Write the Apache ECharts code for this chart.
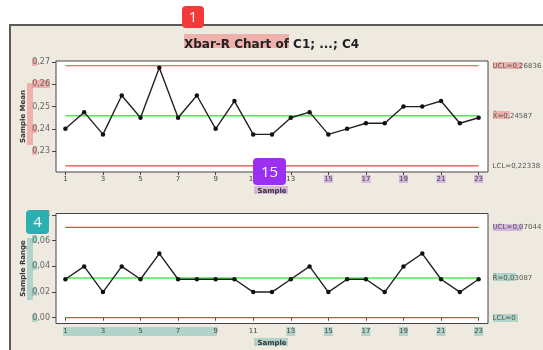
<!DOCTYPE html>
<html>
<head>
<meta charset="utf-8">
<title>Xbar-R Chart of C1; ...; C4</title>
<script src="https://cdn.jsdelivr.net/npm/echarts@6/dist/echarts.min.js"></script>
<style>
  html, body { margin: 0; padding: 0; background: #ffffff; }
  #chart { width: 543px; height: 350px; }
</style>
</head>
<body>
<div id="chart"></div>
<script>
// Subgroup numbers
const samples = [1,2,3,4,5,6,7,8,9,10,11,12,13,14,15,16,17,18,19,20,21,22,23];
// Subgroup means
const sampleMeans = [0.24,0.2475,0.2375,0.255,0.245,0.2675,0.245,0.255,0.24,0.2525,0.2375,0.2375,
                     0.245,0.2475,0.2375,0.24,0.2425,0.2425,0.25,0.25,0.2525,0.2425,0.245];
// Subgroup ranges
const sampleRanges = [0.03,0.04,0.02,0.04,0.03,0.05,0.03,0.03,0.03,0.03,0.02,0.02,
                      0.03,0.04,0.02,0.03,0.03,0.02,0.04,0.05,0.03,0.02,0.03];
// Control limits: [UCL, centre, LCL]
const meanLimits = [0.26836, 0.24587, 0.22338];
const rangeLimits = [0.07044, 0.03087, 0];
// Tick labels
const xTicks = [1,3,5,7,9,11,13,15,17,19,21,23];
const meanTicks = [0.23,0.24,0.25,0.26,0.27];
const rangeTicks = [0,0.02,0.04,0.06,0.08];

const FONT = 'DejaVu Sans';
const comma = (v, d) => v.toFixed(d).replace('.', ',');

const chart = echarts.init(document.getElementById('chart'), null, { renderer: 'canvas' });

function xAxisFor(gridIndex) {
  return {
    type: 'value', gridIndex, min: 0.5, max: 23.5,
    name: 'Sample', nameLocation: 'middle', nameGap: 16,
    nameTextStyle: { fontFamily: FONT, fontSize: 7, fontWeight: 'bold', color: '#333' },
    axisLine: { show: false },
    splitLine: { show: false },
    axisTick: { show: true, customValues: xTicks, length: 3, lineStyle: { color: '#444' } },
    axisLabel: { customValues: xTicks, fontFamily: FONT, fontSize: 7, color: '#444', margin: 4 }
  };
}
function yAxisFor(gridIndex, name, min, max, ticks) {
  return {
    type: 'value', gridIndex, min, max,
    name, nameLocation: 'middle', nameGap: 29, nameMoveOverlap: false,
    nameTextStyle: { fontFamily: FONT, fontSize: 7, fontWeight: 'bold', color: '#333' },
    axisLine: { show: false },
    splitLine: { show: false },
    axisTick: { show: true, customValues: ticks, length: 4, lineStyle: { color: '#444' } },
    axisLabel: { customValues: ticks, fontFamily: FONT, fontSize: 8, color: '#666', margin: 6,
                 formatter: v => comma(v, 2) }
  };
}
function limitSeries(idx, value, color, width, text) {
  return {
    type: 'line', xAxisIndex: idx, yAxisIndex: idx, symbol: 'none', silent: true, z: 1,
    data: [[samples[0], value], [samples[samples.length - 1], value]],
    lineStyle: { color, width },
    endLabel: { show: true, formatter: text, distance: 14, fontFamily: FONT, fontSize: 7, color: '#555' }
  };
}
function dataSeries(idx, values) {
  return {
    type: 'line', xAxisIndex: idx, yAxisIndex: idx, z: 3,
    data: samples.map((s, i) => [s, values[i]]),
    symbol: 'circle', symbolSize: 4.5,
    itemStyle: { color: '#111' },
    lineStyle: { color: '#222', width: 1.4 }
  };
}

// Annotation highlights and badges
const hl = (x, y, w, h, fill) => ({ type: 'rect', z: -5, shape: { x, y, width: w, height: h }, style: { fill } });
const badge = (x, y, w, h, fill, text) => ({
  type: 'group', z: 100, children: [
    { type: 'rect', z: 100, shape: { x, y, width: w, height: h, r: 4 }, style: { fill } },
    { type: 'text', z: 101, style: { x: x + w / 2, y: y + h / 2 + 1, text, fill: '#fff',
      font: '15px "Open Sans"', align: 'center', verticalAlign: 'middle' } }
  ]
});
const PINK = 'rgba(240,120,120,0.5)';
const PURPLE = 'rgba(175,95,220,0.38)';
const TEAL = 'rgba(40,160,150,0.3)';
const xpos = s => 56 + (s - 0.5) * 432 / 23;

const graphics = [
  { type: 'rect', z: -20, shape: { x: 10, y: 25, width: 540, height: 330 },
    style: { fill: '#EEEAE0', stroke: '#5a5a56', lineWidth: 2 } },
  // pink
  hl(184, 34, 105, 14, PINK),
  hl(32, 58, 5, 8, PINK),
  hl(32, 80, 18, 8, PINK),
  hl(32, 125, 5, 8, PINK),
  hl(32, 147, 5, 8, PINK),
  hl(27, 83, 6, 62, PINK),
  hl(493, 62, 29, 7, PINK),
  hl(493, 111, 17, 8, PINK),
  // purple
  hl(254, 186, 34, 8, PURPLE),
  hl(493, 224, 29, 7, PURPLE),
  // teal
  hl(27, 238, 6, 62, TEAL),
  hl(32, 235, 5, 8, TEAL),
  hl(32, 262, 5, 8, TEAL),
  hl(32, 288, 5, 8, TEAL),
  hl(32, 314, 5, 8, TEAL),
  hl(63, 327, 154, 9, TEAL),
  hl(254, 338, 34, 8, TEAL),
  hl(493, 273, 23, 8, TEAL),
  hl(493, 314, 25, 8, TEAL)
];
[15, 17, 19, 21, 23].forEach(s => graphics.push(hl(xpos(s) - 4.5, 175, 9, 8, PURPLE)));
[13, 15, 17, 19, 21, 23].forEach(s => graphics.push(hl(xpos(s) - 4.5, 327, 9, 9, TEAL)));
graphics.push(badge(182, 6, 22, 22, '#F23A3A', '1'));
graphics.push(badge(253, 158, 33, 27, '#9B30F0', '15'));
graphics.push(badge(26, 210, 23, 24, '#2BAFB0', '4'));

chart.setOption({
  animation: false,
  backgroundColor: '#ffffff',
  title: {
    text: 'Xbar-R Chart of C1; ...; C4', left: 'center', top: 34,
    textStyle: { fontFamily: FONT, fontSize: 12, fontWeight: 'bold', color: '#222' }
  },
  graphic: { elements: graphics },
  grid: [
    { left: 56, top: 61, width: 432, height: 111, show: true, backgroundColor: '#fff',
      borderColor: '#444', borderWidth: 1 },
    { left: 56, top: 213.5, width: 432, height: 110, show: true, backgroundColor: '#fff',
      borderColor: '#444', borderWidth: 1 }
  ],
  xAxis: [xAxisFor(0), xAxisFor(1)],
  yAxis: [
    yAxisFor(0, 'Sample Mean', 0.2206, 0.2705, meanTicks),
    yAxisFor(1, 'Sample Range', -0.0045, 0.0812, rangeTicks)
  ],
  series: [
    limitSeries(0, meanLimits[0], '#F04040', 1.2, 'UCL=' + comma(meanLimits[0], 5)),
    limitSeries(0, meanLimits[1], '#4CE84C', 1.5, 'X\u0304=' + comma(meanLimits[1], 5)),
    limitSeries(0, meanLimits[2], '#F04040', 1.2, 'LCL=' + comma(meanLimits[2], 5)),
    dataSeries(0, sampleMeans),
    limitSeries(1, rangeLimits[0], '#F04040', 1.2, 'UCL=' + comma(rangeLimits[0], 5)),
    limitSeries(1, rangeLimits[1], '#4CE84C', 1.5, 'R\u0304=' + comma(rangeLimits[1], 5)),
    limitSeries(1, rangeLimits[2], '#F04040', 1.2, 'LCL=0'),
    dataSeries(1, sampleRanges)
  ]
});
</script>
</body>
</html>
